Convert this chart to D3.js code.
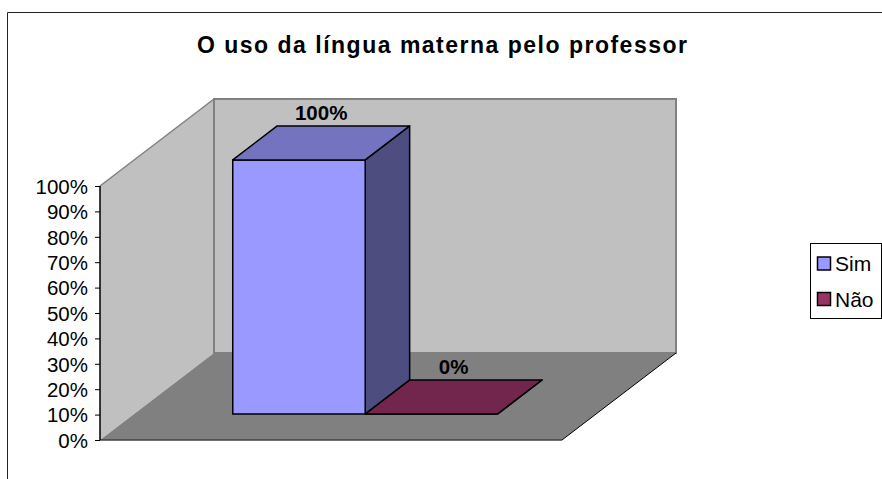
<!DOCTYPE html>
<html><head><meta charset="utf-8">
<script src="https://cdn.jsdelivr.net/npm/d3@7"></script>
<style>
html,body{margin:0;padding:0;background:#fff;}
svg{display:block;font-family:"Liberation Sans",Arial,sans-serif;}
</style></head>
<body>
<svg id="chart" width="882" height="479"></svg>
<script>
// ---- data ----
const title = "O uso da língua materna pelo professor";
const categories = [""];
const seriesNames = ["Sim", "Não"];
const seriesValues = [[1.00], [0.00]];   // per series, per category
const yTicks = [0, 0.1, 0.2, 0.3, 0.4, 0.5, 0.6, 0.7, 0.8, 0.9, 1.0];
const frontColors = ["#9999FF", "#993366"];
const topColors = ["#7373BF", "#73264D"];
const sideColors = ["#4D4D80", "#4D1A33"];

// ---- layout ----
const svg = d3.select("#chart");
const plot = {x0: 100, x1: 562, yBottom: 440, yTop: 186};
const depth = {dx: 114, dy: -87};
const barZ = [0.3, 0.69];

const y = d3.scaleLinear().domain([0, 1]).range([plot.yBottom, plot.yTop]);
const x0 = d3.scaleBand().domain(categories).range([plot.x0, plot.x1]).paddingInner(0).paddingOuter(0.372);
const x1 = d3.scaleBand().domain(seriesNames).range([0, x0.bandwidth()]).padding(0);
const P = (px, py, z) => [px + depth.dx * z, py + depth.dy * z];
const line = pts => "M" + pts.map(p => p.join(",")).join("L") + "Z";

// outer frame
svg.append("path").attr("d", "M7.5,479 L7.5,12.5 L882,12.5")
  .attr("fill", "none").attr("stroke", "#222").attr("stroke-width", 1);

// title
svg.append("text").attr("x", 442).attr("y", 53).attr("text-anchor", "middle")
  .attr("font-size", 23).attr("font-weight", "bold").attr("fill", "#000")
  .attr("textLength", 490).attr("lengthAdjust", "spacing").text(title);

// back wall
const bw = [P(plot.x0, plot.yTop, 1), P(plot.x1, plot.yTop, 1), P(plot.x1, plot.yBottom, 1), P(plot.x0, plot.yBottom, 1)];
svg.append("path").attr("d", line(bw)).attr("fill", "#C0C0C0").attr("stroke", "#808080").attr("stroke-width", 2);
// left wall
const lw = [[plot.x0, plot.yTop], P(plot.x0, plot.yTop, 1), P(plot.x0, plot.yBottom, 1), [plot.x0, plot.yBottom]];
svg.append("path").attr("d", line(lw)).attr("fill", "#C0C0C0").attr("stroke", "none");
svg.append("path").attr("d", "M" + [plot.x0, plot.yTop].join(",") + "L" + P(plot.x0, plot.yTop, 1).join(","))
  .attr("stroke", "#808080").attr("stroke-width", 1.5).attr("fill", "none");
svg.append("path").attr("d", "M" + P(plot.x0, plot.yTop, 1).join(",") + "L" + P(plot.x0, plot.yBottom, 1).join(","))
  .attr("stroke", "#808080").attr("stroke-width", 2).attr("fill", "none");
// floor
const fl = [[plot.x0, plot.yBottom], [plot.x1, plot.yBottom], P(plot.x1, plot.yBottom, 1), P(plot.x0, plot.yBottom, 1)];
svg.append("path").attr("d", line(fl)).attr("fill", "#808080").attr("stroke", "none");
svg.append("path").attr("d", "M" + [plot.x1, plot.yBottom].join(",") + "L" + P(plot.x1, plot.yBottom, 1).join(","))
  .attr("stroke", "#000").attr("stroke-width", 1).attr("fill", "none");
svg.append("path").attr("d", "M" + plot.x0 + "," + plot.yBottom + "L" + plot.x1 + "," + plot.yBottom)
  .attr("stroke", "#404040").attr("stroke-width", 1.5).attr("fill", "none");

// y axis
const yAxis = d3.axisLeft(y).tickValues(yTicks).tickFormat(d3.format(".0%")).tickSize(5).tickPadding(7);
const ga = svg.append("g").attr("transform", `translate(${plot.x0},0)`).call(yAxis);
ga.select(".domain").attr("stroke", "#000").attr("stroke-width", 1.5).attr("d", `M0,${plot.yBottom}V${plot.yTop}`);
ga.selectAll(".tick line").attr("stroke", "#000");
ga.selectAll(".tick text").attr("font-size", 20.5).attr("fill", "#000")
  .attr("font-family", "'Liberation Sans',Arial,sans-serif").attr("dy", "0.36em");

// bars
const bars = [];
seriesNames.forEach((s, si) => categories.forEach((c, ci) => bars.push({s, si, c, v: seriesValues[si][ci]})));
const gb = svg.append("g");
bars.slice().reverse().forEach(b => {
  const xl = x0(b.c) + x1(b.s), xr = xl + x1.bandwidth();
  const yt = y(b.v), yb = y(0);
  const g = gb.append("g");
  // side
  g.append("path").attr("d", line([P(xr, yt, barZ[0]), P(xr, yt, barZ[1]), P(xr, yb, barZ[1]), P(xr, yb, barZ[0])]))
    .attr("fill", sideColors[b.si]).attr("stroke", "#000").attr("stroke-width", 1.5).attr("stroke-linejoin", "round");
  // front
  g.append("path").attr("d", line([P(xl, yt, barZ[0]), P(xr, yt, barZ[0]), P(xr, yb, barZ[0]), P(xl, yb, barZ[0])]))
    .attr("fill", frontColors[b.si]).attr("stroke", "#000").attr("stroke-width", 1.5);
  // top
  g.append("path").attr("d", line([P(xl, yt, barZ[0]), P(xr, yt, barZ[0]), P(xr, yt, barZ[1]), P(xl, yt, barZ[1])]))
    .attr("fill", topColors[b.si]).attr("stroke", "#000").attr("stroke-width", 1.5).attr("stroke-linejoin", "round");
});
// labels
bars.forEach(b => {
  const xc = x0(b.c) + x1(b.s) + x1.bandwidth() / 2;
  const p = P(xc, y(b.v), (barZ[0] + barZ[1]) / 2);
  svg.append("text").attr("x", p[0]).attr("y", p[1] - 23).attr("text-anchor", "middle")
    .attr("font-size", 20.5).attr("font-weight", "bold").attr("fill", "#000")
    .text(d3.format(".0%")(b.v));
});

// legend
const lg = svg.append("g");
lg.append("rect").attr("x", 810.5).attr("y", 243.5).attr("width", 71).attr("height", 75)
  .attr("fill", "#fff").attr("stroke", "#000").attr("stroke-width", 1);
seriesNames.forEach((s, i) => {
  const yy = 257 + i * 35.5;
  lg.append("rect").attr("x", 817.5).attr("y", yy).attr("width", 13).attr("height", 13)
    .attr("fill", frontColors[i]).attr("stroke", "#000").attr("stroke-width", 1.5);
  lg.append("text").attr("x", 835).attr("y", yy + 6.5).attr("dy", "0.36em")
    .attr("font-size", 21).attr("fill", "#000").text(s);
});
</script>
</body></html>
